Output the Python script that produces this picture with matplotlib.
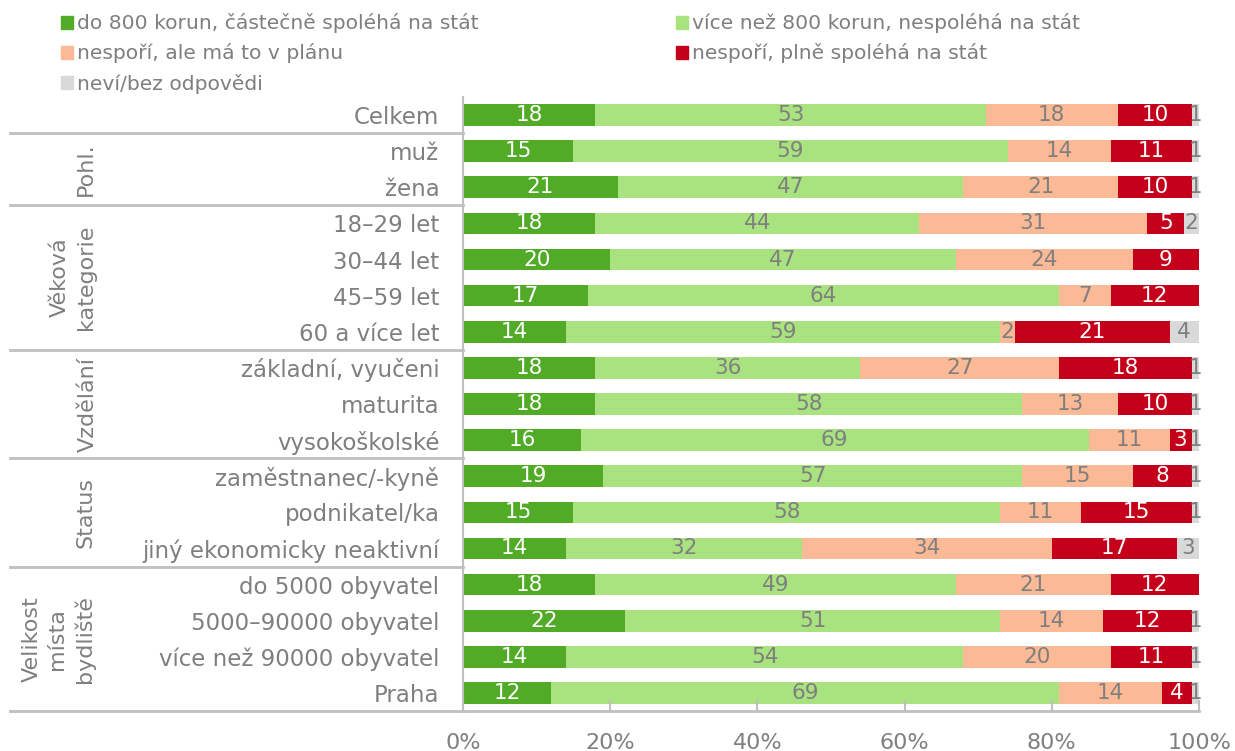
import matplotlib
matplotlib.use("Agg")
import matplotlib.pyplot as plt
import matplotlib.transforms as mtransforms
from matplotlib.patches import Patch
import numpy as np

plt.rcParams['font.family'] = ['DejaVu Sans']

categories = ["Celkem", "muž", "žena", "18–29 let", "30–44 let", "45–59 let", "60 a více let",
              "základní, vyučeni", "maturita", "vysokoškolské",
              "zaměstnanec/-kyně", "podnikatel/ka", "jiný ekonomicky neaktivní",
              "do 5000 obyvatel", "5000–90000 obyvatel", "více než 90000 obyvatel", "Praha"]

series_names = ["do 800 korun, částečně spoléhá na stát",
                "více než 800 korun, nespoléhá na stát",
                "nespoří, ale má to v plánu",
                "nespoří, plně spoléhá na stát",
                "neví/bez odpovědi"]

do800 = [18, 15, 21, 18, 20, 17, 14, 18, 18, 16, 19, 15, 14, 18, 22, 14, 12]
vice800 = [53, 59, 47, 44, 47, 64, 59, 36, 58, 69, 57, 58, 32, 49, 51, 54, 69]
plan = [18, 14, 21, 31, 24, 7, 2, 27, 13, 11, 15, 11, 34, 21, 14, 20, 14]
plne = [10, 11, 10, 5, 9, 12, 21, 18, 10, 3, 8, 15, 17, 12, 12, 11, 4]
nevi = [1, 1, 1, 2, 0, 0, 4, 1, 1, 1, 1, 1, 3, 0, 1, 1, 1]

groups = [("Pohl.", 1, 2), ("Věková\nkategorie", 3, 6), ("Vzdělání", 7, 9),
          ("Status", 10, 12), ("Velikost\nmísta\nbydliště", 13, 16)]
separators = [0.5, 2.5, 6.5, 9.5, 12.5, 16.5]

colors = ["#52AB26", "#A9E37F", "#FBB995", "#C4001A", "#D9D9D9"]
text_colors = ["white", "#7F7F7F", "#7F7F7F", "white", "#7F7F7F"]
gray = "#7F7F7F"
linegray = "#BFBFBF"

fig = plt.figure(figsize=(12.35, 7.51), dpi=100)
ax = fig.add_axes([463 / 1235, 1 - 711 / 751, 736 / 1235, (711 - 97) / 751])

y = np.arange(len(categories))
data = [do800, vice800, plan, plne, nevi]
left = np.zeros(len(categories))
for vals, col, tc in zip(data, colors, text_colors):
    vals = np.array(vals, dtype=float)
    ax.barh(y, vals, left=left, height=0.6, color=col, edgecolor='none')
    for yi, (l, v) in enumerate(zip(left, vals)):
        if v > 0:
            ax.text(l + v / 2, yi, f"{int(v)}", ha='center', va='center',
                    color=tc, fontsize=15.5)
    left += vals

ax.set_xlim(0, 100)
ax.set_ylim(16.5, -0.5)
ax.set_yticks(y)
ax.set_yticklabels(categories, fontsize=16.5, color=gray)
ax.tick_params(axis='y', length=0, pad=17)
ax.set_xticks([0, 20, 40, 60, 80, 100])
ax.set_xticklabels(["0%", "20%", "40%", "60%", "80%", "100%"], fontsize=16, color=gray)
ax.tick_params(axis='x', direction='in', length=8, width=1.5, color=linegray, pad=16)
for s in ['top', 'right']:
    ax.spines[s].set_visible(False)
ax.spines['left'].set_color(linegray)
ax.spines['left'].set_linewidth(1.5)
ax.spines['bottom'].set_color(linegray)
ax.spines['bottom'].set_linewidth(2)

trans = mtransforms.blended_transform_factory(ax.transAxes, ax.transData)
xl = (10 - 463) / 736
for s in separators:
    ax.plot([xl, 0], [s, s], transform=trans, color=linegray, lw=2, clip_on=False)

group_x = {"Pohl.": 86, "Věková\nkategorie": 73, "Vzdělání": 88, "Status": 86,
           "Velikost\nmísta\nbydliště": 58}
for name, a, b in groups:
    xc = (group_x[name] - 463) / 736
    ax.text(xc, (a + b) / 2, name, transform=trans, rotation=90, ha='center',
            va='center', fontsize=16, color=gray, linespacing=1.35, multialignment='center')

handles = [Patch(color=c) for c in colors]
order = [0, 2, 4, 1, 3]
fig.legend([handles[i] for i in order], [series_names[i] for i in order],
           ncol=2, loc='upper left', bbox_to_anchor=(43 / 1235, 1 + 5 / 751),
           frameon=False, fontsize=14.6, labelcolor=gray, handlelength=0.6,
           handleheight=0.6, handletextpad=0.2, columnspacing=9.7, labelspacing=0.5)

fig.savefig("out.png", dpi=100)
